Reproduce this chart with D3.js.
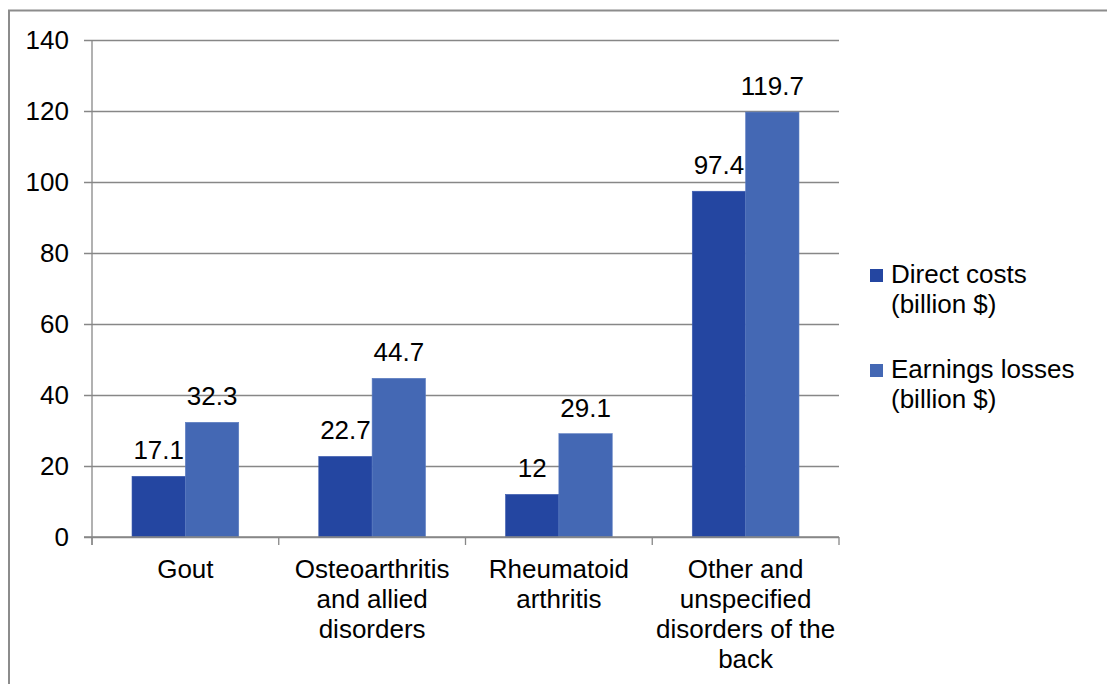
<!DOCTYPE html>
<html>
<head>
<meta charset="utf-8">
<script src="https://cdn.jsdelivr.net/npm/d3@7"></script>
<style>
  html, body { margin: 0; padding: 0; background: #fff; }
  svg { display: block; font-family: "Liberation Sans", Arial, sans-serif; }
</style>
</head>
<body>
<svg id="chart" width="1107" height="684"></svg>
<script>
const categories = ["Gout", "Osteoarthritis\nand allied\ndisorders", "Rheumatoid\narthritis", "Other and\nunspecified\ndisorders of the\nback"];
const seriesNames = ["Direct costs\n(billion $)", "Earnings losses\n(billion $)"];
const directCosts = [17.1, 22.7, 12, 97.4];
const earningsLosses = [32.3, 44.7, 29.1, 119.7];
const yTicks = [0, 20, 40, 60, 80, 100, 120, 140];
const colors = ["#2446A1", "#4468B4"];

(function () {
const series = [directCosts, earningsLosses];
const svg = d3.select("#chart");
const fontSize = 26;
const gridColor = "#878787";

// outer border (right and bottom edges fall outside the picture)
svg.append("rect")
  .attr("x", 9).attr("y", 10.5).attr("width", 1110).attr("height", 700)
  .attr("fill", "none").attr("stroke", "#8c8c8c").attr("stroke-width", 2);

const pLeft = 92, pRight = 839, pTop = 40, pBottom = 537;
const x0 = d3.scaleBand().domain(categories).range([pLeft, pRight]).padding(0);
const x1 = d3.scaleBand().domain(d3.range(series.length)).range([0, x0.bandwidth()]).paddingInner(0).paddingOuter(0.75);
const y = d3.scaleLinear().domain([0, 140]).range([pBottom, pTop]);

// gridlines + y axis
const yAxis = d3.axisLeft(y).tickValues(yTicks).tickSize(-(pRight - pLeft)).tickSizeOuter(0).tickPadding(15);
const gy = svg.append("g").attr("transform", `translate(${pLeft},0)`).call(yAxis);
gy.select(".domain").remove();
gy.selectAll(".tick line").attr("stroke", gridColor).attr("stroke-width", 1.3).attr("x1", -8);
gy.selectAll(".tick text").attr("font-size", fontSize).attr("fill", "#000")
  .attr("font-family", "Liberation Sans, Arial, sans-serif").attr("x", -23);

// vertical axis line
svg.append("line").attr("x1", pLeft).attr("x2", pLeft).attr("y1", pTop).attr("y2", pBottom + 8)
  .attr("stroke", gridColor).attr("stroke-width", 1.3);

// x axis ticks at category boundaries
const bounds = categories.map(c => x0(c)).concat([x0(categories[categories.length - 1]) + x0.bandwidth()]);
svg.selectAll("line.xtick").data(bounds).enter().append("line")
  .attr("class", "xtick")
  .attr("x1", d => d).attr("x2", d => d).attr("y1", pBottom).attr("y2", pBottom + 8)
  .attr("stroke", gridColor).attr("stroke-width", 1.3);

// bars
categories.forEach((cat, ci) => {
  series.forEach((vals, si) => {
    const v = vals[ci];
    const bx = x0(cat) + x1(si);
    svg.append("rect")
      .attr("x", bx).attr("y", y(v))
      .attr("width", x1.bandwidth()).attr("height", y(0) - y(v))
      .attr("fill", colors[si])
      .attr("stroke", si === 0 ? "#3A5AAE" : "#5A7BC0").attr("stroke-width", 0.6);
    svg.append("text")
      .attr("x", bx + x1.bandwidth() / 2).attr("y", y(v) - 17)
      .attr("text-anchor", "middle").attr("font-size", fontSize).attr("fill", "#000")
      .text(String(v));
  });
});

// baseline drawn over bars
svg.append("line").attr("x1", pLeft - 8).attr("x2", pRight).attr("y1", pBottom).attr("y2", pBottom)
  .attr("stroke", gridColor).attr("stroke-width", 1.3);

// category labels
categories.forEach(cat => {
  const t = svg.append("text")
    .attr("text-anchor", "middle").attr("font-size", fontSize).attr("fill", "#000");
  cat.split("\n").forEach((line, i) => {
    t.append("tspan").attr("x", x0(cat) + x0.bandwidth() / 2).attr("y", pBottom + 41 + i * 30).text(line);
  });
});

// legend
const legendTops = [269, 364];
seriesNames.forEach((name, i) => {
  svg.append("rect").attr("x", 870).attr("y", legendTops[i]).attr("width", 13).attr("height", 13)
    .attr("fill", colors[i]);
  const t = svg.append("text").attr("font-size", fontSize).attr("fill", "#000");
  name.split("\n").forEach((line, j) => {
    t.append("tspan").attr("x", 891).attr("y", legendTops[i] + 14 + j * 30).text(line);
  });
});
})();
</script>
</body>
</html>
